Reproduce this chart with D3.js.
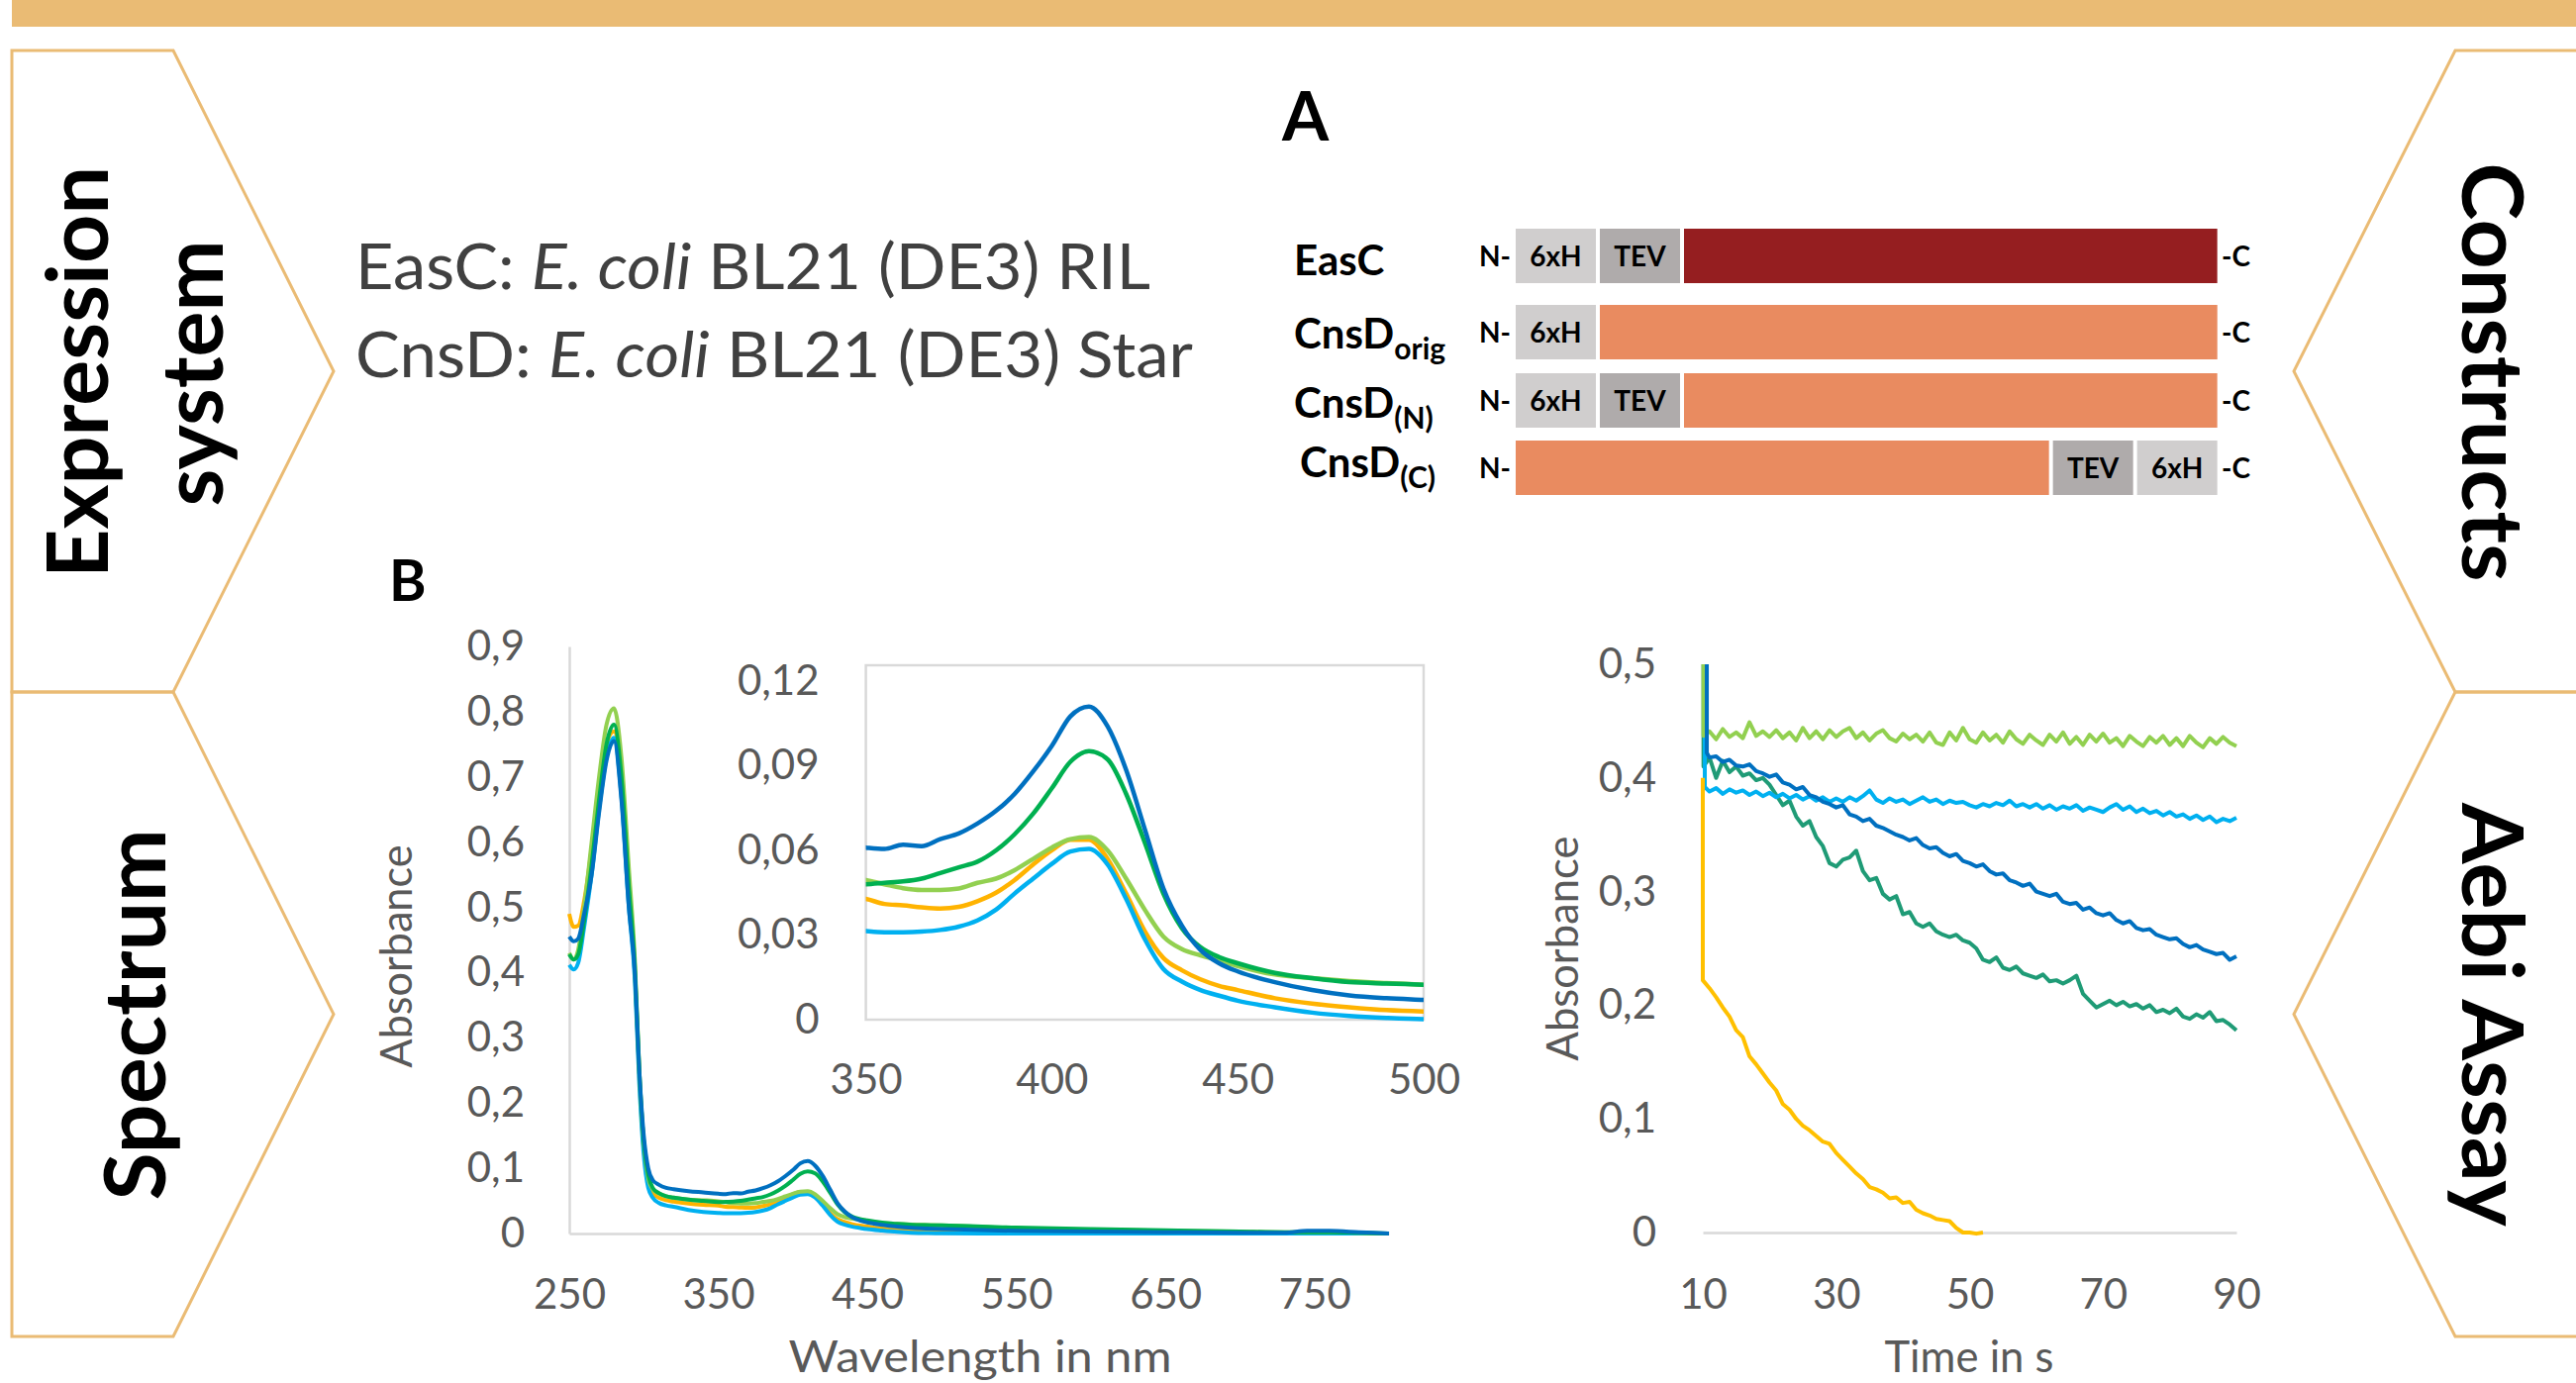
<!DOCTYPE html>
<html>
<head>
<meta charset="utf-8">
<script src="https://cdn.jsdelivr.net/npm/d3@7"></script>
<style>
  body { margin: 0; background: #fff; }
  svg { display: block; }
</style>
</head>
<body>
<svg id="fig" width="2602" height="1397"></svg>
<script>
// ---- data ----
const wavelengths = [250, 253, 256, 260, 265, 270, 275, 280, 285, 290,
  294, 297, 300, 303, 306, 310, 315, 320, 330, 340,
  350, 355, 360, 365, 370, 375, 380, 385, 390, 395,
  400, 405, 410, 415, 420, 425, 430, 435, 440, 445,
  450, 460, 470, 480, 490, 500, 550, 600, 650, 700,
  730, 745, 760, 780, 800];

const absOrange = [0.49, 0.47, 0.472, 0.51, 0.59, 0.685, 0.75, 0.77, 0.69, 0.52,
  0.40, 0.24, 0.13, 0.08, 0.062, 0.055, 0.051, 0.049, 0.046, 0.044,
  0.0428, 0.041, 0.0405, 0.0398, 0.0394, 0.040, 0.042, 0.045, 0.0495, 0.055,
  0.060, 0.0638, 0.0638, 0.057, 0.0447, 0.0314, 0.0219, 0.0175, 0.0143, 0.012,
  0.0105, 0.0076, 0.0057, 0.0044, 0.0034, 0.0029, 0.002, 0.0015, 0.001, 0.001,
  0.001, 0.001, 0.001, 0, 0];
const absLightBlue = [0.412, 0.405, 0.415, 0.47, 0.55, 0.65, 0.73, 0.76, 0.67, 0.50,
  0.39, 0.23, 0.12, 0.07, 0.055, 0.047, 0.043, 0.041, 0.036, 0.033,
  0.0314, 0.031, 0.031, 0.0312, 0.0318, 0.033, 0.0352, 0.039, 0.0447, 0.050,
  0.0552, 0.0596, 0.0605, 0.055, 0.0428, 0.0286, 0.018, 0.0135, 0.0105, 0.0085,
  0.0067, 0.0044, 0.0025, 0.0013, 0.0006, 0.0002, 0, 0, 0, 0,
  0, 0, 0, 0, 0];
const absLightGreen = [0.43, 0.42, 0.435, 0.50, 0.60, 0.70, 0.78, 0.805, 0.73, 0.56,
  0.42, 0.25, 0.14, 0.085, 0.068, 0.062, 0.057, 0.055, 0.052, 0.051,
  0.0495, 0.048, 0.0466, 0.046, 0.046, 0.0465, 0.0485, 0.050, 0.053, 0.057,
  0.061, 0.064, 0.0647, 0.060, 0.050, 0.039, 0.0295, 0.025, 0.0228, 0.021,
  0.019, 0.016, 0.0147, 0.0137, 0.013, 0.0124, 0.008, 0.006, 0.004, 0.003,
  0.002, 0.002, 0.002, 0.001, 0];
const absGreen = [0.428, 0.42, 0.428, 0.48, 0.565, 0.665, 0.75, 0.78, 0.70, 0.53,
  0.41, 0.25, 0.14, 0.09, 0.07, 0.062, 0.057, 0.055, 0.052, 0.05,
  0.048, 0.0485, 0.049, 0.050, 0.052, 0.054, 0.056, 0.060, 0.0657, 0.073,
  0.082, 0.0914, 0.0952, 0.0923, 0.080, 0.0628, 0.0447, 0.0324, 0.0257, 0.0222,
  0.020, 0.0166, 0.0147, 0.0133, 0.0128, 0.0124, 0.009, 0.007, 0.005, 0.003,
  0.002, 0.002, 0.002, 0.001, 0];
const absDarkBlue = [0.455, 0.448, 0.452, 0.49, 0.55, 0.645, 0.725, 0.755, 0.665, 0.50,
  0.40, 0.25, 0.15, 0.10, 0.082, 0.075, 0.07, 0.068, 0.065, 0.063,
  0.061, 0.0605, 0.062, 0.0615, 0.064, 0.066, 0.0695, 0.074, 0.080, 0.088,
  0.097, 0.1075, 0.111, 0.104, 0.0885, 0.0676, 0.0466, 0.0333, 0.0247, 0.020,
  0.0171, 0.0133, 0.0105, 0.0086, 0.0076, 0.007, 0.004, 0.003, 0.002, 0.0012,
  0.001, 0.004, 0.004, 0.002, 0];

const spectrumYTicks = [0, 0.1, 0.2, 0.3, 0.4, 0.5, 0.6, 0.7, 0.8, 0.9];
const spectrumXTicks = [250, 350, 450, 550, 650, 750];
const insetYTicks = [0, 0.03, 0.06, 0.09, 0.12];
const insetXTicks = [350, 400, 450, 500];

const aebiTimes = [10, 11, 12, 13, 14, 15, 16, 17, 18, 19, 20, 21, 22, 23, 24, 25, 26, 27, 28, 29,
  30, 31, 32, 33, 34, 35, 36, 37, 38, 39, 40, 41, 42, 43, 44, 45, 46, 47, 48, 49,
  50, 51, 52, 53, 54, 55, 56, 57, 58, 59, 60, 61, 62, 63, 64, 65, 66, 67, 68, 69,
  70, 71, 72, 73, 74, 75, 76, 77, 78, 79, 80, 81, 82, 83, 84, 85, 86, 87, 88, 89, 90];

const aebiTeal = [0.41, 0.418, 0.40, 0.415, 0.405, 0.41, 0.402, 0.404, 0.398, 0.40,
  0.394, 0.385, 0.376, 0.38, 0.366, 0.358, 0.362, 0.348, 0.34, 0.325,
  0.322, 0.328, 0.33, 0.336, 0.318, 0.31, 0.312, 0.298, 0.293, 0.296,
  0.28, 0.282, 0.272, 0.269, 0.272, 0.265, 0.262, 0.26, 0.262, 0.257,
  0.255, 0.25, 0.24, 0.238, 0.242, 0.233, 0.231, 0.234, 0.228, 0.226,
  0.224, 0.227, 0.221, 0.222, 0.219, 0.222, 0.226, 0.21, 0.204, 0.198,
  0.201, 0.204, 0.2, 0.203, 0.199, 0.201, 0.197, 0.2, 0.194, 0.196,
  0.193, 0.197, 0.19, 0.188, 0.192, 0.189, 0.194, 0.186, 0.187, 0.183, 0.178];
const aebiLightBlue = [0.392, 0.388, 0.391, 0.386, 0.390, 0.387, 0.389, 0.385, 0.388, 0.384,
  0.387, 0.383, 0.386, 0.382, 0.385, 0.381, 0.384, 0.380, 0.383, 0.379,
  0.382, 0.379, 0.383, 0.380, 0.384, 0.389, 0.381, 0.378, 0.382, 0.379,
  0.381, 0.377, 0.380, 0.383, 0.379, 0.381, 0.377, 0.380, 0.378, 0.379,
  0.376, 0.374, 0.377, 0.375, 0.378, 0.376, 0.380, 0.375, 0.377, 0.374,
  0.377, 0.373, 0.376, 0.372, 0.375, 0.373, 0.376, 0.371, 0.374, 0.372,
  0.370, 0.374, 0.377, 0.372, 0.375, 0.370, 0.373, 0.369, 0.371, 0.367,
  0.370, 0.366, 0.368, 0.364, 0.367, 0.363, 0.366, 0.361, 0.364, 0.362, 0.365];
const aebiLightGreen = [0.437, 0.441, 0.434, 0.443, 0.436, 0.440, 0.435, 0.449, 0.437, 0.441,
  0.436, 0.442, 0.435, 0.440, 0.433, 0.444, 0.435, 0.441, 0.434, 0.442,
  0.436, 0.441, 0.444, 0.435, 0.440, 0.433, 0.439, 0.442, 0.435, 0.432,
  0.439, 0.434, 0.438, 0.432, 0.440, 0.431, 0.429, 0.440, 0.433, 0.444,
  0.434, 0.431, 0.440, 0.433, 0.438, 0.431, 0.441, 0.434, 0.430, 0.438,
  0.433, 0.429, 0.438, 0.432, 0.440, 0.430, 0.436, 0.429, 0.438, 0.432,
  0.439, 0.431, 0.435, 0.428, 0.437, 0.432, 0.428, 0.436, 0.431, 0.437,
  0.429, 0.435, 0.428, 0.437, 0.431, 0.427, 0.435, 0.430, 0.436, 0.431, 0.428];
const aebiDarkBlue = [0.422, 0.418, 0.419, 0.414, 0.416, 0.411, 0.410, 0.412, 0.406, 0.404,
  0.401, 0.403, 0.396, 0.394, 0.390, 0.392, 0.385, 0.383, 0.379, 0.377,
  0.374, 0.376, 0.368, 0.366, 0.362, 0.364, 0.358, 0.356, 0.353, 0.350,
  0.348, 0.345, 0.347, 0.341, 0.338, 0.339, 0.334, 0.331, 0.333, 0.327,
  0.325, 0.322, 0.324, 0.318, 0.315, 0.316, 0.310, 0.308, 0.305, 0.307,
  0.300, 0.298, 0.296, 0.298, 0.291, 0.289, 0.290, 0.284, 0.286, 0.281,
  0.279, 0.281, 0.275, 0.272, 0.274, 0.268, 0.266, 0.267, 0.262, 0.260,
  0.258, 0.259, 0.254, 0.251, 0.253, 0.249, 0.247, 0.245, 0.246, 0.240, 0.243];
const aebiYellow = [0.222, 0.215, 0.207, 0.198, 0.19, 0.178, 0.172, 0.155, 0.148, 0.14,
  0.132, 0.125, 0.113, 0.108, 0.1, 0.094, 0.09, 0.085, 0.08, 0.078,
  0.07, 0.064, 0.058, 0.052, 0.047, 0.04, 0.038, 0.035, 0.03, 0.031,
  0.026, 0.027, 0.02, 0.017, 0.015, 0.012, 0.011, 0.01, 0.004, 0,
  0, -0.001, 0];
// value before the drop at the start of each trace, and where the drop sits
const aebiStartValues = [0.6, 0.6, 0.6, 0.6, 0.4];
const aebiStartTimes = [10.1, 10.3, 10.1, 10.6, 10.0];
const aebiYTicks = [0, 0.1, 0.2, 0.3, 0.4, 0.5];
const aebiXTicks = [10, 30, 50, 70, 90];

const constructNames = ["EasC", "CnsD", "CnsD", "CnsD"];
const constructSubs = ["", "orig", "(N)", "(C)"];
const constructParts = [["6xH", "TEV", "EasC"], ["6xH", "CnsD"], ["6xH", "TEV", "CnsD"], ["CnsD", "TEV", "6xH"]];
const constructLengths = [[1, 1, 6.65], [1, 7.7], [1, 1, 6.65], [6.65, 1, 1]];

// ---- drawing ----
const svg = d3.select("#fig");
const panelColor = "#EABB74";
const axisGrey = "#D9D9D9";
const labelGrey = "#595959";
const font = "Lato, 'Open Sans', sans-serif";
const fmtComma = d => d === 0 ? "0" : String(d).replace(".", ",");

svg.append("rect").attr("x", 12).attr("y", 0).attr("width", 2590).attr("height", 27).attr("fill", panelColor);

function tab(top, bottom, side) {
    const mid = (top + bottom) / 2;
    const d = side === "left"
        ? `M12,${top} L175,${top} L337,${mid} L175,${bottom} L12,${bottom} Z`
        : `M2610,${top} L2480,${top} L2317,${mid} L2480,${bottom} L2610,${bottom}`;
    svg.append("path").attr("d", d)
        .attr("fill", "none")
        .attr("stroke", panelColor)
        .attr("stroke-width", 3)
        .attr("stroke-linejoin", "miter");
}
tab(51, 699, "left");
tab(699, 1350, "left");
tab(51, 699, "right");
tab(699, 1350, "right");

function sideLabel(text, x, y, rot, len) {
    svg.append("text")
        .attr("transform", "translate(" + x + "," + y + ") rotate(" + rot + ")")
        .attr("text-anchor", "middle")
        .attr("font-family", font)
        .attr("font-weight", 700)
        .attr("font-size", 86)
        .attr("textLength", len)
        .attr("lengthAdjust", "spacingAndGlyphs")
        .text(text);
}
sideLabel("Expression", 109, 376, -90, 416);
sideLabel("system", 225, 377, -90, 269);
sideLabel("Spectrum", 167, 1025, -90, 375);
sideLabel("Constructs", 2487, 376, 90, 423);
sideLabel("Aebi Assay", 2487, 1025, 90, 428);

// expression system text
function strainLine(name, strain, y, len) {
    const t = svg.append("text")
        .attr("x", 359).attr("y", y)
        .attr("font-family", font)
        .attr("font-size", 64)
        .attr("fill", "#404040")
        .attr("textLength", len)
        .attr("lengthAdjust", "spacingAndGlyphs");
    t.append("tspan").text(name + ": ");
    t.append("tspan").attr("font-style", "italic").text("E. coli");
    t.append("tspan").text(" " + strain);
}
strainLine("EasC", "BL21 (DE3) RIL", 292, 803);
strainLine("CnsD", "BL21 (DE3) Star", 381, 846);

// panel letters
svg.append("text").attr("x", 1295).attr("y", 142).attr("font-family", font)
    .attr("font-weight", 700).attr("font-size", 68).text("A");
svg.append("text").attr("x", 393).attr("y", 607).attr("font-family", font)
    .attr("font-weight", 700).attr("font-size", 57).text("B");

// constructs
const partColor = { "6xH": "#D0CECE", "TEV": "#AFABAB", "EasC": "#951E20", "CnsD": "#E98B60" };
const rowTops = [231, 308, 377, 445];
const labelBase = [278, 352, 422, 482];
const rowH = 55;
const unitPx = 81;
const gapPx = 4;
const cx0 = 1531;
constructParts.forEach((parts, r) => {
    const g = svg.append("g");
    let x = cx0;
    parts.forEach((p, i) => {
        const w = constructLengths[r][i] * unitPx;
        g.append("rect").attr("x", x).attr("y", rowTops[r]).attr("width", w).attr("height", rowH)
            .attr("fill", partColor[p]);
        if (p === "6xH" || p === "TEV") {
            g.append("text").attr("x", x + w / 2).attr("y", rowTops[r] + rowH / 2 + 10)
                .attr("text-anchor", "middle").attr("font-family", font).attr("font-weight", 700)
                .attr("font-size", 28).text(p);
        }
        x += w + gapPx;
    });
    g.append("text").attr("x", cx0 - 5).attr("y", rowTops[r] + rowH / 2 + 10)
        .attr("text-anchor", "end").attr("font-family", font).attr("font-weight", 700)
        .attr("font-size", 28).text("N-");
    g.append("text").attr("x", 2244).attr("y", rowTops[r] + rowH / 2 + 10)
        .attr("font-family", font).attr("font-weight", 700)
        .attr("font-size", 28).text("-C");
    const lab = g.append("text").attr("x", r === 3 ? 1313 : 1307).attr("y", labelBase[r])
        .attr("font-family", font).attr("font-weight", 700).attr("font-size", 42);
    lab.append("tspan").text(constructNames[r]);
    if (constructSubs[r]) {
        lab.append("tspan").attr("dy", 11).attr("font-size", 30).text(constructSubs[r]);
    }
});

// axis helper
function styleAxis(g, showDomain) {
    g.attr("font-family", font).attr("font-size", 42);
    g.selectAll(".tick line").remove();
    g.selectAll("text").attr("fill", labelGrey);
    g.select(".domain").attr("stroke", showDomain ? axisGrey : "none").attr("stroke-width", 2.5);
}

// spectrum
const spectrumSeries = [absOrange, absLightBlue, absLightGreen, absGreen, absDarkBlue];
const spectrumColors = ["#FFB300", "#00B0F0", "#92D050", "#00B050", "#0070C0"];
const xS = d3.scaleLinear().domain([250, 800]).range([575, 1403]);
const yS = d3.scaleLinear().domain([0, 0.9]).range([1246, 653]);

svg.append("g").attr("transform", "translate(0,1246)")
    .call(d3.axisBottom(xS).tickValues(spectrumXTicks).tickSize(0).tickSizeOuter(0).tickPadding(46))
    .call(g => styleAxis(g, true));
svg.append("g").attr("transform", "translate(575,0)")
    .call(d3.axisLeft(yS).tickValues(spectrumYTicks).tickFormat(fmtComma).tickSize(0).tickSizeOuter(0).tickPadding(45))
    .call(g => styleAxis(g, true));

const specLine = d3.line()
    .x((d, i) => xS(wavelengths[i]))
    .y(d => yS(d))
    .curve(d3.curveMonotoneX);
spectrumSeries.forEach((s, k) => {
    svg.append("path").attr("d", specLine(s)).attr("fill", "none")
        .attr("stroke", spectrumColors[k]).attr("stroke-width", 4);
});

svg.append("text").attr("transform", "translate(416,966) rotate(-90)")
    .attr("text-anchor", "middle").attr("font-family", font).attr("font-size", 44)
    .attr("fill", labelGrey).attr("textLength", 225).attr("lengthAdjust", "spacingAndGlyphs")
    .text("Absorbance");
svg.append("text").attr("x", 990).attr("y", 1386)
    .attr("text-anchor", "middle").attr("font-family", font).attr("font-size", 44)
    .attr("fill", labelGrey).attr("textLength", 387).attr("lengthAdjust", "spacingAndGlyphs")
    .text("Wavelength in nm");

// inset
const ixS = d3.scaleLinear().domain([350, 500]).range([874.6, 1438]);
const iyS = d3.scaleLinear().domain([0, 0.12]).range([1030, 688]);
svg.append("rect").attr("x", 874.6).attr("y", 672).attr("width", 1438 - 874.6).attr("height", 1030 - 672)
    .attr("fill", "#fff").attr("stroke", axisGrey).attr("stroke-width", 2.5);
svg.append("clipPath").attr("id", "insetClip").append("rect")
    .attr("x", 874.6).attr("y", 660).attr("width", 1438 - 874.6).attr("height", 372);
svg.append("g").attr("transform", "translate(0,1030)")
    .call(d3.axisBottom(ixS).tickValues(insetXTicks).tickSize(0).tickSizeOuter(0).tickPadding(45))
    .call(g => styleAxis(g, false));
svg.append("g").attr("transform", "translate(874.6,0)")
    .call(d3.axisLeft(iyS).tickValues(insetYTicks).tickFormat(fmtComma).tickSize(0).tickSizeOuter(0).tickPadding(47))
    .call(g => styleAxis(g, false));
const insetLine = d3.line()
    .defined((d, i) => wavelengths[i] >= 340 && wavelengths[i] <= 550)
    .x((d, i) => ixS(wavelengths[i]))
    .y(d => iyS(d))
    .curve(d3.curveMonotoneX);
const insetG = svg.append("g").attr("clip-path", "url(#insetClip)");
spectrumSeries.forEach((s, k) => {
    insetG.append("path").attr("d", insetLine(s)).attr("fill", "none")
        .attr("stroke", spectrumColors[k]).attr("stroke-width", 4.5);
});

// aebi assay
const aebiSeries = [aebiTeal, aebiLightBlue, aebiLightGreen, aebiDarkBlue, aebiYellow];
const aebiColors = ["#1F9B76", "#00B0F0", "#92D050", "#0070C0", "#FFC000"];
const axS = d3.scaleLinear().domain([10, 90]).range([1720, 2259]);
const ayS = d3.scaleLinear().domain([0, 0.5]).range([1245, 671]);
svg.append("g").attr("transform", "translate(0,1245)")
    .call(d3.axisBottom(axS).tickValues(aebiXTicks).tickSize(0).tickSizeOuter(0).tickPadding(47))
    .call(g => styleAxis(g, true));
svg.append("g").attr("transform", "translate(1720,0)")
    .call(d3.axisLeft(ayS).tickValues(aebiYTicks).tickFormat(fmtComma).tickSize(0).tickSizeOuter(0).tickPadding(47))
    .call(g => styleAxis(g, false));
svg.append("clipPath").attr("id", "aebiClip").append("rect")
    .attr("x", 1715).attr("y", 671).attr("width", 560).attr("height", 590);
const aebiLine = d3.line().x(d => axS(d[0])).y(d => ayS(d[1]));
const aebiG = svg.append("g").attr("clip-path", "url(#aebiClip)");
aebiSeries.forEach((s, k) => {
    const t0 = aebiStartTimes[k];
    const pts = [[t0, aebiStartValues[k]]].concat(s.map((v, i) => [i === 0 ? t0 : aebiTimes[i], v]));
    aebiG.append("path").attr("d", aebiLine(pts)).attr("fill", "none")
        .attr("stroke", aebiColors[k]).attr("stroke-width", 4).attr("stroke-linejoin", "round");
});
svg.append("text").attr("transform", "translate(1594,958) rotate(-90)")
    .attr("text-anchor", "middle").attr("font-family", font).attr("font-size", 44)
    .attr("fill", labelGrey).attr("textLength", 227).attr("lengthAdjust", "spacingAndGlyphs")
    .text("Absorbance");
svg.append("text").attr("x", 1989).attr("y", 1386)
    .attr("text-anchor", "middle").attr("font-family", font).attr("font-size", 44)
    .attr("fill", labelGrey).attr("textLength", 171).attr("lengthAdjust", "spacingAndGlyphs")
    .text("Time in s");
</script>
</body>
</html>
